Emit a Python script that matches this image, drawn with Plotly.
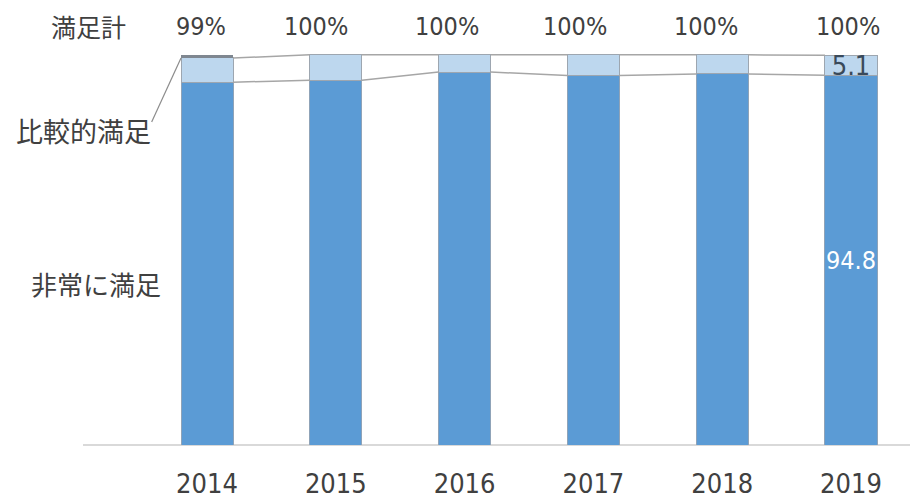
import plotly.graph_objects as go

years = ["2014", "2015", "2016", "2017", "2018", "2019"]
very_satisfied = [93.0, 93.5, 95.6, 94.7, 95.1, 94.8]
fairly_satisfied = [6.2, 6.5, 4.4, 5.3, 4.9, 5.1]
other = [0.8, 0.0, 0.0, 0.0, 0.0, 0.0]
total_labels = ["99%", "100%", "100%", "100%", "100%", "100%"]
total_label_shift = [-6, -20, -18, -18, -16, -3]
very_text = ["", "", "", "", "", "94.8"]
fairly_text = ["", "", "", "", "", "5.1"]

xs = list(range(len(years)))
BW = 0.404
NARROW = "Liberation Sans Narrow, DejaVu Sans Condensed, Arial Narrow, sans-serif"
JP = "Noto Sans CJK JP"
TXT = "#404040"

fig = go.Figure()
fig.add_trace(go.Bar(
    x=xs, y=very_satisfied, width=BW, name="非常に満足",
    marker=dict(color="#5B9BD5", line=dict(color="#8FA3B8", width=1)),
    text=very_text, textposition="inside", insidetextanchor="middle", textangle=0,
    textfont=dict(family=NARROW, size=25, color="white"),
    constraintext="none", cliponaxis=False,
))
fig.add_trace(go.Bar(
    x=xs, y=fairly_satisfied, width=BW, name="比較的満足",
    marker=dict(color="#BDD7EE", line=dict(color="#9DA6B0", width=1)),
    text=fairly_text, textposition="inside", insidetextanchor="middle", textangle=0,
    textfont=dict(family=NARROW, size=27, color="#3A4A5A"),
    constraintext="none", cliponaxis=False,
))
fig.add_trace(go.Bar(
    x=xs, y=other, width=BW, name="その他",
    marker=dict(color="#7F8790", line=dict(width=0)),
))

# series lines connecting segment tops between bars
cum1 = very_satisfied
cum2 = [a + b for a, b in zip(very_satisfied, fairly_satisfied)]
for cum in (cum1, cum2):
    lx, ly = [], []
    for i in range(len(xs) - 1):
        lx += [xs[i] + BW / 2, xs[i + 1] - BW / 2, None]
        ly += [cum[i], cum[i + 1], None]
    fig.add_trace(go.Scatter(x=lx, y=ly, mode="lines",
                             line=dict(color="#A6A6A6", width=1.5),
                             hoverinfo="skip", showlegend=False))

# leader line from label to 2014 fairly-satisfied segment
fig.add_shape(type="line", xref="x", yref="y",
              x0=-0.43, y0=82.8, x1=xs[0] - BW / 2, y1=cum2[0],
              line=dict(color="#8C8C8C", width=1.2))

annotations = [
    dict(x=-0.92, y=107.3, text="満足計", font=dict(family=JP, size=25, color=TXT)),
    dict(x=-0.96, y=80.6, text="比較的満足", font=dict(family=JP, size=27, color=TXT)),
    dict(x=-0.86, y=41.5, text="非常に満足", font=dict(family=JP, size=26, color=TXT)),
]
for i, t in enumerate(total_labels):
    annotations.append(dict(x=xs[i], y=107.3, text=t, xshift=total_label_shift[i],
                            font=dict(family=NARROW, size=25, color=TXT)))
for a in annotations:
    a.update(xref="x", yref="y", showarrow=False, xanchor="center", yanchor="middle")

fig.update_layout(
    barmode="stack",
    width=910, height=504,
    margin=dict(l=83, r=0, t=10, b=59),
    paper_bgcolor="white", plot_bgcolor="white",
    showlegend=False,
    annotations=annotations,
    xaxis=dict(range=[-0.963, 5.458], tickmode="array", tickvals=xs, ticktext=years,
               showgrid=False, zeroline=False, showline=False, ticks="",
               tickfont=dict(family=NARROW, size=27, color=TXT), ticklabelstandoff=20),
    yaxis=dict(range=[0, 111.5], showgrid=False, zeroline=True, zerolinecolor="#D9D9D9",
               zerolinewidth=1.5, showticklabels=False, showline=False),
)
fig.write_html("out.html")
